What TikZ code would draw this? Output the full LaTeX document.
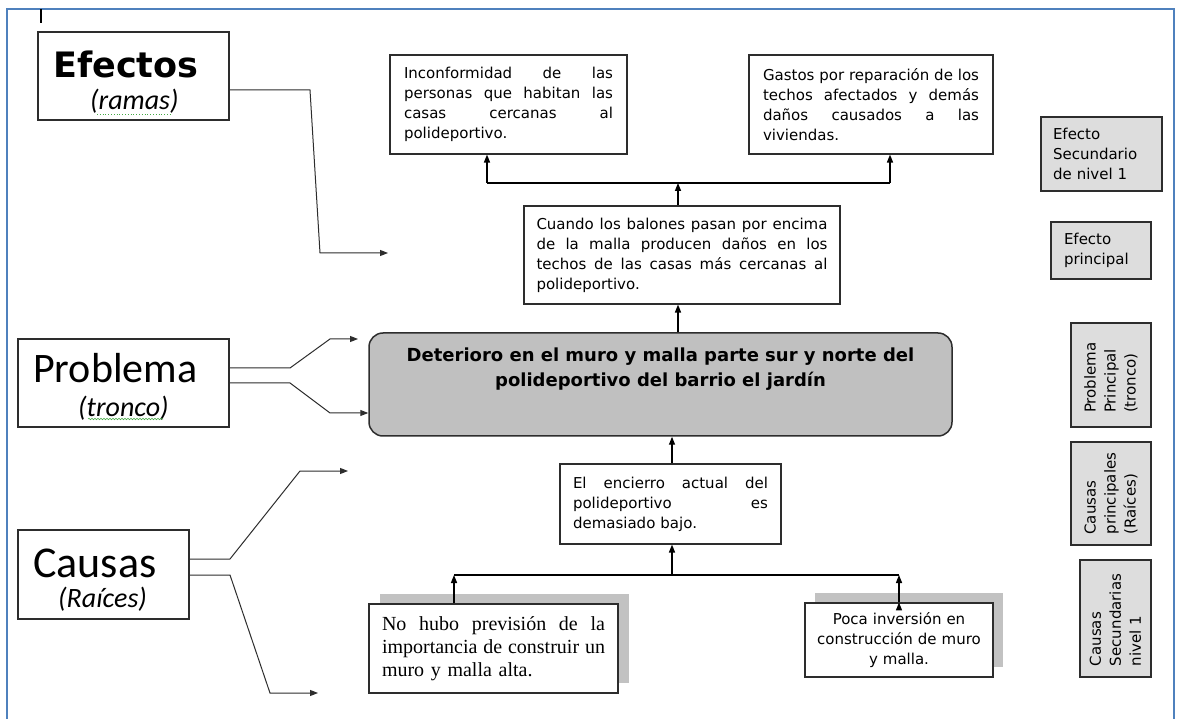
\documentclass[tikz,border=0pt]{standalone}
\usepackage{fontspec}
\setmainfont{DejaVu Sans}
\newfontfamily\calibrifont{Carlito}
\newfontfamily\timesfont{Liberation Serif}
\usetikzlibrary{positioning, arrows.meta, shadows, decorations.pathmorphing}

\definecolor{marco}{RGB}{79,129,189}
\definecolor{gristronco}{RGB}{192,192,192}
\definecolor{grisleyenda}{RGB}{221,221,221}
\definecolor{grissombra}{RGB}{194,194,194}
\definecolor{borde}{RGB}{45,45,45}
\definecolor{corrector}{RGB}{70,170,70}

\newcommand{\lj}[1]{\makebox[\hsize][s]{\spaceskip=0.25em plus 1fil\relax #1}\\}

\tikzset{
	caja/.style={draw=borde, line width=1.1pt, fill=white, inner ysep=0pt, align=left, font=\fontsize{15}{20}\selectfont},
	leyenda/.style={caja, fill=grisleyenda},
	marcador/.style={draw=borde, line width=1.1pt, inner sep=0pt},
	conector/.style={->, draw=borde, line width=1pt},
	rama/.style={draw=black, line width=1.4pt},
	sombra/.style={general shadow={fill=grissombra, shadow xshift=#1, shadow yshift=10pt}}
}

\begin{document}
\begin{tikzpicture}
	[x=1pt, y=-1pt, >={Triangle[length=8pt,width=6pt]}, inner sep=0pt]
	\fill[white] (0,0) rectangle (1179,719);
	\useasboundingbox (0,0) rectangle (1179,719);
	\draw[marco, line width=2pt] (7,719) -- (7,9) -- (1174,9) -- (1174,719);
	\draw[line width=2pt] (41,9) -- (41,23);

	\node[marcador, minimum width=191pt, minimum height=88pt] (efectos) at (133.5,76) {};
	\node[anchor=base west, font=\fontsize{35}{35}\selectfont\bfseries] (efectos_t) at (53,78) {Efectos};
	\node[anchor=base west, font=\calibrifont\itshape\fontsize{28}{28}\selectfont] (efectos_s) at (90,110) {(ramas)};
	\node[marcador, minimum width=211pt, minimum height=88pt] (problema) at (123.5,383) {};
	\node[anchor=base west, font=\calibrifont\fontsize{42}{42}\selectfont] (problema_t) at (33,383) {Problema};
	\node[anchor=base west, font=\calibrifont\itshape\fontsize{28}{28}\selectfont] (problema_s) at (78,417) {(tronco)};
	\node[marcador, minimum width=171pt, minimum height=89pt] (causas) at (103.5,574.5) {};
	\node[anchor=base west, font=\calibrifont\fontsize{44}{44}\selectfont] (causas_t) at (33,577) {Causas};
	\node[anchor=base west, font=\calibrifont\itshape\fontsize{28}{28}\selectfont] (causas_s) at (58,607) {(Raíces)};
	\draw[corrector, dotted, line width=0.8pt] (97,114) -- (170,114);
	\draw[corrector, line width=0.6pt, decorate, decoration={snake, amplitude=0.7pt, segment length=3pt}] (88,419) -- (163,419);

	\node[caja, text width=209pt, inner xsep=14pt, minimum height=99pt] (efecto_1) at (508.5,104.5)
		{\lj{Inconformidad de las}\lj{personas que habitan las}\lj{casas cercanas al}polideportivo.};
	\node[caja, text width=216pt, inner xsep=14pt, minimum height=99pt] (efecto_2) at (871,104.5)
		{\lj{Gastos por reparación de los}\lj{techos afectados y demás}\lj{daños causados a las}viviendas.};
	\node[caja, text width=291pt, inner xsep=12.5pt, minimum height=98pt] (efecto_p) at (682,255)
		{\lj{Cuando los balones pasan por encima}\lj{de la malla producen daños en los}\lj{techos de las casas más cercanas al}polideportivo.};
	\node[draw=borde, line width=1.5pt, fill=gristronco, rounded corners=14pt, minimum width=583pt, minimum height=103pt] (main) at (660.5,384.5) {};
	\node[below=11.5pt of main.north, align=center, font=\fontsize{18}{25}\selectfont\bfseries] (main_t)
		{\strut Deterioro en el muro y malla parte sur y norte del\\polideportivo del barrio el jardín};
	\node[caja, text width=195pt, inner xsep=13pt, minimum height=80pt] (causa_p) at (670.5,504)
		{\lj{El encierro actual del}\lj{polideportivo es}demasiado bajo.};
	\node[caja, sombra=11pt, text width=223pt, inner xsep=13pt, minimum height=89pt, font=\timesfont\fontsize{20}{23}\selectfont] (causa_1) at (493.5,648.5)
		{\lj{No hubo previsión de la}\lj{importancia de construir un}muro y malla alta.};
	\node[caja, sombra=10pt, text width=170pt, inner xsep=9pt, minimum height=74pt, align=center] (causa_2) at (899,640)
		{Poca inversión en\\construcción de muro\\y malla.};

	\node[leyenda, text width=97pt, inner xsep=12pt, minimum height=74pt] (ley_1) at (1101.5,154) {Efecto\\Secundario\\de nivel 1};
	\node[leyenda, text width=74pt, inner xsep=13pt, minimum height=57pt] (ley_2) at (1101,250.5) {Efecto\\principal};
	\node[leyenda, rotate=90, text width=76pt, inner xsep=14pt, minimum height=80pt] (ley_3) at (1111,375) {Problema\\Principal\\(tronco)};
	\node[leyenda, rotate=90, text width=82pt, inner xsep=10.5pt, minimum height=80pt] (ley_4) at (1111,493.5) {Causas\\principales\\(Raíces)};
	\node[leyenda, rotate=90, text width=95pt, inner xsep=11pt, minimum height=71pt] (ley_5) at (1115.5,618.5) {Causas\\Secundarias\\nivel 1};

	\coordinate (f_1) at (388,253);
	\coordinate (f_2) at (358,339);
	\coordinate (f_3) at (348,471);
	\coordinate (f_4) at (318,693);
	\draw[conector] (efectos.east |- 0,90) -- (310,90) -- (320,253) -- (f_1);
	\draw[conector] (problema.east |- 0,368) -- (290,368) -- (330,339) -- (f_2);
	\draw[conector] (problema.east |- 0,383) -- (290,383) -- (330,413) -- (main.west |- 0,413);
	\draw[conector] (causas.east |- 0,559) -- (230,559) -- (300,471) -- (f_3);
	\draw[conector] (causas.east |- 0,575) -- (230,575) -- (270,693) -- (f_4);

	\coordinate (r_1) at (678,183);
	\coordinate (b_1) at (487,183);
	\coordinate (b_2) at (890,183);
	\coordinate (r_2) at (672,575);
	\coordinate (b_3) at (454,575);
	\coordinate (b_4) at (899,575);
	\draw[rama] (b_1) -- (b_2);
	\draw[rama] (b_3) -- (b_4);
	\path[rama, ->]
		(b_1) edge (b_1 |- efecto_1.south)
		(b_2) edge (b_2 |- efecto_2.south)
		(efecto_p.north -| r_1) edge (r_1)
		(main.north -| r_1) edge (efecto_p.south -| r_1)
		(causa_p.north -| r_2) edge (main.south -| r_2)
		(r_2) edge (causa_p.south -| r_2)
		(causa_1.north -| b_3) edge (b_3)
		(causa_2.north) edge (b_4);
\end{tikzpicture}
\end{document}
